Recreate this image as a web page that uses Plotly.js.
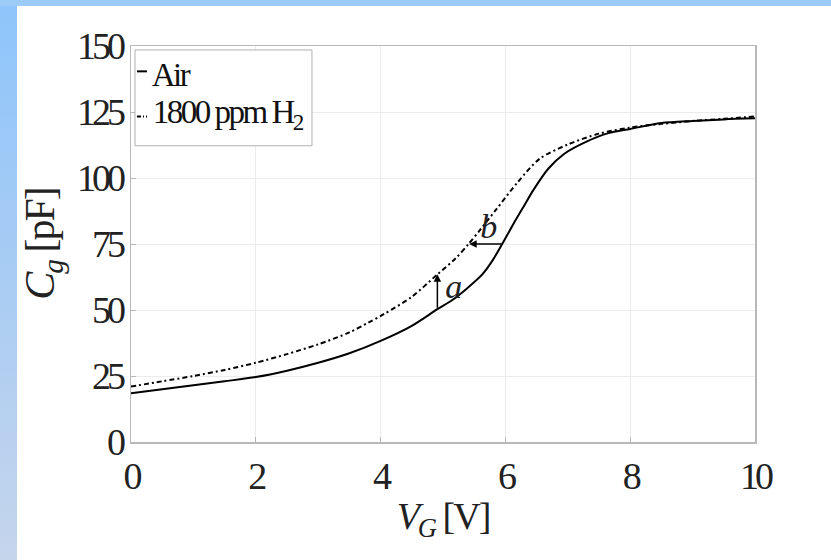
<!DOCTYPE html>
<html>
<head>
<meta charset="utf-8">
<script src="https://cdn.plot.ly/plotly-3.0.1.min.js"></script>
<style>
  html, body { margin: 0; padding: 0; width: 831px; height: 560px; overflow: hidden; }
  body { background: linear-gradient(180deg, #8ec5fb 0%, #a9ccf3 50%, #c5d5ec 100%); position: relative; }
  #topband { position: absolute; left: 0; top: 0; width: 831px; height: 6px; background: #9dcbf8; }
  #chart { position: absolute; left: 17px; top: 6px; width: 814px; height: 554px; background: #ffffff; }
  #chart .xtick text, #chart .ytick text { letter-spacing: -4px; }
  #chart .annotation-text { letter-spacing: -2.5px; }
  #chart .g-xtitle text, #chart .g-ytitle text { letter-spacing: -2px; }
</style>
</head>
<body>
<div id="topband"></div>
<div id="chart"></div>
<script>
// Air (solid)
const airX = [0, 0.5, 1, 1.5, 2, 2.5, 3, 3.5, 4, 4.5, 4.91, 5.15, 5.37, 5.63, 5.8, 5.96, 6.15, 6.3, 6.45, 6.69, 6.95, 7.3, 7.65, 8, 8.5, 9, 9.5, 10];
const airY = [18.5, 20, 21.5, 23, 24.6, 27, 30, 33.6, 38.3, 44, 50.3, 53.8, 57.9, 63.5, 69, 75.5, 83.5, 89.5, 95.5, 103.6, 109.3, 113.8, 117, 118.6, 120.8, 121.6, 122.2, 122.6];
// 1800 ppm H2 (dash-dot)
const h2X = [0, 0.5, 1, 1.5, 2, 2.5, 3, 3.5, 3.8, 4.05, 4.5, 4.91, 5.2, 5.41, 5.6, 5.85, 6.2, 6.55, 7, 7.5, 8, 8.5, 9, 9.5, 10];
const h2Y = [21, 23, 25, 27.3, 30, 33.3, 37, 41.5, 45.2, 48.4, 55, 63.5, 69.5, 75, 80.5, 88, 98.5, 107.3, 112.7, 116.8, 119.1, 120.5, 121.6, 122.4, 123.3];
const seriesNames = ['Air', '1800 ppm H<sub>2</sub>'];
const xTicks = [0, 2, 4, 6, 8, 10];
const yTicks = [0, 25, 50, 75, 100, 125, 150];
// arrow annotations: shift a (vertical) and b (horizontal)
const arrowA = {x: 4.91, from: 50.3, to: 63.5, label: 'a'};
const arrowB = {y: 75, from: 5.96, to: 5.42, label: 'b'};

const font = "'Liberation Serif'";
const solidDash = 'solid';
const h2Dash = '5px,3px,2px,3px';

const traces = [
  {x: airX, y: airY, name: seriesNames[0], type: 'scatter', mode: 'lines', showlegend: false,
   line: {color: '#000', width: 2, dash: solidDash, shape: 'spline', smoothing: 0.8}},
  {x: h2X, y: h2Y, name: seriesNames[1], type: 'scatter', mode: 'lines', showlegend: false,
   line: {color: '#000', width: 2, dash: h2Dash, shape: 'spline', smoothing: 0.8}}
];

// compact MATLAB-style legend (box, short line samples, labels) in paper coordinates
const legendBox = {x0: 0.0064, x1: 0.290, y0: 0.748, y1: 0.990};
const legendRows = [0.936, 0.822];
const legendTextY = [0.928, 0.828];
const legendTextX = [0.024, 0.009];
const shapes = [
  {type: 'rect', xref: 'paper', yref: 'paper', x0: legendBox.x0, x1: legendBox.x1, y0: legendBox.y0, y1: legendBox.y1,
   line: {color: '#b0b0b0', width: 1}, fillcolor: '#ffffff', layer: 'above'}
];
const legendAnn = [];
seriesNames.forEach((name, i) => {
  shapes.push({type: 'line', xref: 'paper', yref: 'paper', x0: 0.0096, x1: 0.0256, y0: legendRows[i], y1: legendRows[i],
    line: {color: '#000', width: 2, dash: i === 0 ? solidDash : '4px,2px,1px,2px'}, layer: 'above'});
  legendAnn.push({x: legendTextX[i], y: legendTextY[i], xref: 'paper', yref: 'paper', xanchor: 'left', yanchor: 'middle',
    text: name, showarrow: false, font: {family: font, size: 33, color: '#111'}});
});

const layout = {
  width: 814, height: 554,
  paper_bgcolor: '#ffffff', plot_bgcolor: '#ffffff',
  margin: {l: 114, r: 76, t: 40, b: 118},
  font: {family: font, color: '#222', size: 26},
  showlegend: false,
  xaxis: {range: [0, 10], tickvals: xTicks, ticktext: xTicks.map(String),
    showgrid: true, gridcolor: '#ececec', zeroline: false,
    showline: true, linecolor: '#b8b8b8', linewidth: 1.5, mirror: true,
    ticks: 'inside', ticklen: 5, tickcolor: '#b8b8b8',
    tickfont: {family: font, size: 38, color: '#222'},
    title: {text: '<i>V</i><sub><i>G</i></sub> [V]', font: {family: font, size: 38, color: '#222'}, standoff: 6}},
  yaxis: {range: [0, 150], tickvals: yTicks, ticktext: yTicks.map(String),
    showgrid: true, gridcolor: '#ececec', zeroline: false,
    showline: true, linecolor: '#b8b8b8', linewidth: 1.5, mirror: true,
    ticks: 'inside', ticklen: 5, tickcolor: '#b8b8b8',
    tickfont: {family: font, size: 38, color: '#222'},
    title: {text: '<i>C</i><sub><i>g</i></sub> [pF]', font: {family: font, size: 42, color: '#222'}, standoff: 4}},
  shapes: shapes,
  annotations: [
    {x: arrowA.x, y: arrowA.to, ax: arrowA.x, ay: arrowA.from, xref: 'x', yref: 'y', axref: 'x', ayref: 'y',
     showarrow: true, arrowhead: 2, arrowsize: 1, arrowwidth: 1.5, arrowcolor: '#000', text: ''},
    {x: arrowB.to, y: arrowB.y, ax: arrowB.from, ay: arrowB.y, xref: 'x', yref: 'y', axref: 'x', ayref: 'y',
     showarrow: true, arrowhead: 2, arrowsize: 1, arrowwidth: 1.5, arrowcolor: '#000', text: ''},
    {x: 5.15, y: 59, xref: 'x', yref: 'y', text: '<i>' + arrowA.label + '</i>', showarrow: false,
     font: {family: font, size: 34, color: '#222'}},
    {x: 5.72, y: 81.5, xref: 'x', yref: 'y', text: '<i>' + arrowB.label + '</i>', showarrow: false,
     font: {family: font, size: 34, color: '#222'}}
  ].concat(legendAnn)
};

Plotly.newPlot('chart', traces, layout, {displayModeBar: false, staticPlot: true});
</script>
</body>
</html>
